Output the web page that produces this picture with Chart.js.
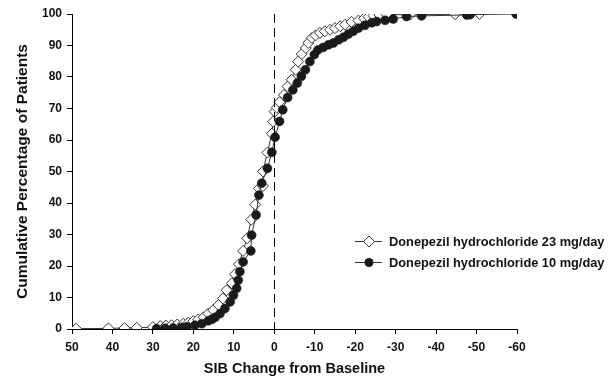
<!DOCTYPE html>
<html>
<head>
<meta charset="utf-8">
<script src="https://cdn.jsdelivr.net/npm/chart.js@4"></script>
<style>
html,body{margin:0;padding:0;background:#fff;}
#wrap{width:616px;height:391px;position:relative;}
</style>
</head>
<body>
<div id="wrap"><canvas id="c" width="616" height="391"></canvas></div>
<script>
const seriesNames = ["Donepezil hydrochloride 23 mg/day", "Donepezil hydrochloride 10 mg/day"];
const xTitle = "SIB Change from Baseline";
const yTitle = "Cumulative Percentage of Patients";
const xTicks = [50, 40, 30, 20, 10, 0, -10, -20, -30, -40, -50, -60];
const yTicks = [0, 10, 20, 30, 40, 50, 60, 70, 80, 90, 100];

// 23 mg/day (open diamonds): [SIB change, cumulative %]
const dose23 = [
  [49,0.1],[41,0.2],[37,0.3],[34,0.4],[30,0.6],[28.2,0.9],[26.8,1.1],[25.4,1.2],[24,1.4],
  [22.5,1.7],[21.2,2.0],[20,2.5],[18.8,3.0],[17.5,3.7],[16.3,4.9],[15.1,6.0],[13.8,7.6],
  [12.7,9.7],[11.8,12.3],[10.5,14.5],[9.7,17.4],[8.7,20.6],[7.7,24.8],[6.7,28.8],[5.7,34.7],
  [4.7,39.5],[3.8,44.6],[2.8,45.4],[2.8,50],[1.7,56],[0.6,62],[0.3,65.8],[-0.1,69],
  [-0.6,70.3],[-1.3,72],[-2.4,74.3],[-3.3,77],[-4.3,79.1],[-5.3,82.3],[-5.9,84.9],[-6.8,87.3],
  [-7.8,89.2],[-8.4,90.8],[-9.3,92.4],[-10.2,93.2],[-11.3,94],[-12.5,94.5],[-13.8,95],
  [-15,95.5],[-16.3,96.1],[-17.5,96.6],[-19.1,97.5],[-20.8,97.9],[-22.2,98.6],[-23.3,99.1],
  [-24.5,99.5],[-26,99.7],[-27.8,99.8],[-32.7,99.8],[-33.6,99.8],[-44.7,99.9],[-50.7,100]
];
// 10 mg/day (filled circles)
const dose10 = [
  [29.1,0.1],[27,0.2],[25,0.3],[23,0.5],[21.6,0.7],[19.6,1.2],[17.9,1.7],[16.3,2.6],[15.4,3.1],
  [14.6,3.7],[13.4,4.9],[12.2,6.5],[10.9,8.6],[10.1,10.7],[9.3,12.9],[8.9,15.5],[8.5,18.2],
  [7.7,21.3],[5.8,24.8],[5.6,29.8],[4.5,36.2],[3.8,42.5],[3.1,46.3],[1.7,51],[0.6,56.1],
  [-0.2,60.9],[-1.3,65.9],[-2.1,69.6],[-3.3,73.5],[-4.6,75.9],[-5.7,78.1],[-6.7,80.2],
  [-7.7,82.3],[-8.8,84.9],[-9.9,87.1],[-10.8,88.6],[-12.1,89.4],[-13.4,90.2],[-14.6,90.8],
  [-15.9,91.8],[-17.1,92.6],[-18.3,93.6],[-19.5,94.5],[-20.8,95.5],[-22.4,96.4],[-24.1,97.2],
  [-25.3,97.6],[-27.4,98],[-29.4,98.4],[-32.7,99.2],[-36.4,99.4],[-47.6,99.7],[-48.4,99.8],[-59.8,100]
];

const toPts = a => a.map(p => ({x: p[0], y: p[1]}));
const FONT = "'Liberation Sans', Arial, sans-serif";

const refLine = {
  id: 'refLine',
  afterDatasetsDraw(chart) {
    const {ctx, chartArea, scales} = chart;
    const x = Math.round(scales.x.getPixelForValue(0)) + 0.5;
    ctx.save();
    ctx.strokeStyle = '#000';
    ctx.lineWidth = 1;
    ctx.setLineDash([9, 5]);
    ctx.beginPath();
    ctx.moveTo(x, chartArea.top);
    ctx.lineTo(x, chartArea.bottom);
    ctx.stroke();
    ctx.restore();
  }
};

const legendPlugin = {
  id: 'customLegend',
  afterDraw(chart) {
    const ctx = chart.ctx;
    const rows = [
      {y: 241, name: seriesNames[0], shape: 'diamond'},
      {y: 262, name: seriesNames[1], shape: 'circle'}
    ];
    ctx.save();
    rows.forEach(r => {
      ctx.strokeStyle = '#333';
      ctx.lineWidth = 1;
      ctx.beginPath();
      ctx.moveTo(355, r.y + 0.5);
      ctx.lineTo(382, r.y + 0.5);
      ctx.stroke();
      const cx = 369, cy = r.y + 0.5;
      if (r.shape === 'diamond') {
        ctx.fillStyle = '#fff';
        ctx.beginPath();
        ctx.moveTo(cx - 5.5, cy); ctx.lineTo(cx, cy - 5.5); ctx.lineTo(cx + 5.5, cy); ctx.lineTo(cx, cy + 5.5);
        ctx.closePath();
        ctx.fill(); ctx.stroke();
      } else {
        ctx.fillStyle = '#1a1a1a';
        ctx.beginPath();
        ctx.arc(cx, cy, 4.5, 0, Math.PI * 2);
        ctx.fill();
      }
      ctx.fillStyle = '#111';
      ctx.font = "bold 12.8px " + FONT;
      ctx.textBaseline = 'middle';
      ctx.textAlign = 'left';
      ctx.fillText(r.name, 389, r.y + 1);
    });
    ctx.restore();
  }
};

new Chart(document.getElementById('c'), {
  type: 'scatter',
  data: {
    datasets: [
      {
        label: seriesNames[1],
        data: toPts(dose10),
        showLine: true,
        borderColor: '#333',
        borderWidth: 1,
        pointStyle: 'circle',
        pointRadius: 4.5,
        pointBackgroundColor: '#1a1a1a',
        pointBorderColor: '#1a1a1a',
        pointBorderWidth: 0.5,
        tension: 0
      },
      {
        label: seriesNames[0],
        data: toPts(dose23),
        showLine: true,
        borderColor: '#333',
        borderWidth: 1,
        pointStyle: 'rectRot',
        pointRadius: 5.5,
        pointBackgroundColor: '#fff',
        pointBorderColor: '#333',
        pointBorderWidth: 1,
        tension: 0
      }
    ]
  },
  options: {
    responsive: false,
    animation: false,
    events: [],
    layout: {padding: {top: 14, right: 99, bottom: 0, left: 0}},
    plugins: {legend: {display: false}, tooltip: {enabled: false}},
    scales: {
      x: {
        type: 'linear',
        reverse: true,
        min: -60, max: 50,
        afterBuildTicks: s => { s.ticks = xTicks.map(v => ({value: v})); },
        afterFit: s => { s.height = 62; },
        ticks: {color: '#111', font: {family: FONT, size: 12, weight: 'bold'}, padding: 6, maxRotation: 0, autoSkip: false},
        grid: {drawOnChartArea: false, drawTicks: true, tickLength: 5, color: '#000', tickColor: '#000'},
        border: {color: '#000', width: 1},
        title: {display: true, text: xTitle, color: '#111', font: {family: FONT, size: 14.5, weight: 'bold'}, padding: {top: 0, bottom: 13}}
      },
      y: {
        type: 'linear',
        min: 0, max: 100,
        afterBuildTicks: s => { s.ticks = yTicks.map(v => ({value: v})); },
        afterFit: s => { s.width = 72; },
        ticks: {color: '#111', font: {family: FONT, size: 12, weight: 'bold'}, padding: 5, autoSkip: false},
        grid: {drawOnChartArea: false, drawTicks: true, tickLength: 5, color: '#000', tickColor: '#000'},
        border: {color: '#000', width: 1},
        title: {display: true, text: yTitle, color: '#111', font: {family: FONT, size: 15.5, weight: 'bold'}, padding: {top: 13, bottom: 0}}
      }
    }
  },
  plugins: [refLine, legendPlugin]
});
</script>
</body>
</html>
